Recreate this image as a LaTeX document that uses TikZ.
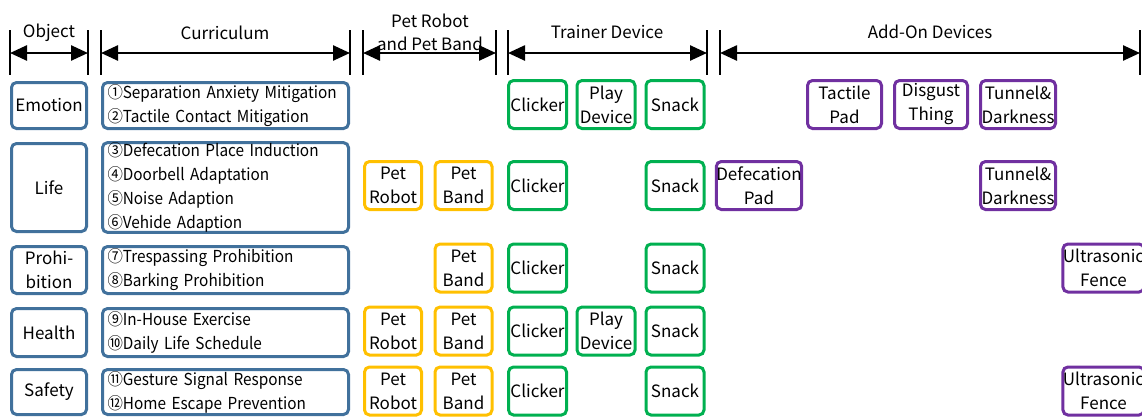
\documentclass[tikz,border=0pt]{standalone}
\usepackage{fontspec}
\setmainfont{Noto Sans CJK KR}
\newfontfamily\narrowfont[FakeStretch=0.93]{Noto Sans CJK KR}
\usetikzlibrary{arrows.meta}
\definecolor{cblue}{RGB}{65,113,156}
\definecolor{cgreen}{RGB}{0,176,80}
\definecolor{cyellow}{RGB}{255,192,0}
\definecolor{cpurple}{RGB}{112,48,160}

\begin{document}
\begin{tikzpicture}[x=1pt,y=-1pt,line width=3pt,
  box/.style={draw,rounded corners=5pt,inner sep=0pt,align=center,
    font=\fontsize{17}{24}\selectfont},
  obj node/.style={box,cblue,text=black,minimum width=75pt},
  cur node/.style={box,cblue,text=black,inner xsep=5pt,text width=236pt,align=left,
    font=\narrowfont\fontsize{16.5}{24}\selectfont},
  pet node/.style={box,cyellow,text=black,minimum width=57pt,minimum height=48pt},
  trainer node/.style={box,cgreen,text=black,minimum width=58pt,minimum height=48pt},
  addon node/.style={box,cpurple,text=black,minimum width=74pt,minimum height=48pt},
  bar/.style={line width=2.5pt},
  span/.style={{Triangle[length=17pt,width=15pt]}-{Triangle[length=17pt,width=15pt]},line width=2.5pt},
  head/.style={font=\fontsize{17}{23}\selectfont,align=center}]
  \useasboundingbox (0,0) rectangle (1142,418);

  % header bars and spans
  \foreach \x/\n in {10/oL,88/oR,101/cL,350/cR,363/pL,496/pR,508/tL,707/tR,720/aL,1140/aR}{
    \coordinate (\n) at (\x,53);
    \draw[bar] (\x,30) -- (\x,75);
  }
  \draw[span] (oL) -- (oR);
  \draw[span] (cL) -- (cR);
  \draw[span] (pL) -- (pR);
  \draw[span] (tL) -- (tR);
  \draw[span] (aL) -- (aR);
  \node[head] (hobj) at (49,33) {Object};
  \node[head] (hcur) at (225,33) {Curriculum};
  \node[head] (hpet) at (430,32) {Pet Robot\\and Pet Band};
  \node[head] (htrn) at (607,32) {Trainer Device};
  \node[head] (hadd) at (930,32) {Add-On Devices};

  % objects
  \node[obj node,minimum height=46pt] (emo) at (49,105.5) {Emotion};
  \node[obj node,minimum height=88pt] (life) at (49,187.5) {Life};
  \node[obj node,minimum height=47pt] (proh) at (49,270) {Prohi-\\bition};
  \node[obj node,minimum height=48pt] (heal) at (49,332.5) {Health};
  \node[obj node,minimum height=45pt] (safe) at (49,392) {Safety};

  % curricula (one line per item, never broken)
  \node[cur node,minimum height=46pt] (c1) at (225.5,105.5) {\mbox{①Separation Anxiety Mitigation}\\\mbox{②Tactile Contact Mitigation}};
  \node[cur node,minimum height=88pt] (c2) at (225.5,187.5) {\mbox{③Defecation Place Induction}\\\mbox{④Doorbell Adaptation}\\\mbox{⑤Noise Adaption}\\\mbox{⑥Vehide Adaption}};
  \node[cur node,minimum height=47pt] (c3) at (225.5,270) {\mbox{⑦Trespassing Prohibition}\\\mbox{⑧Barking Prohibition}};
  \node[cur node,minimum height=48pt] (c4) at (225.5,332.5) {\mbox{⑨In-House Exercise}\\\mbox{⑩Daily Life Schedule}};
  \node[cur node,minimum height=45pt] (c5) at (225.5,392) {\mbox{⑪Gesture Signal Response}\\\mbox{⑫Home Escape Prevention}};

  % emotion row
  \node[trainer node] (e1) at (537.5,104.5) {Clicker};
  \node[trainer node] (e2) at (606,104.5) {Play\\Device};
  \node[trainer node] (e3) at (675,104.5) {Snack};
  \node[addon node] (e4) at (844.5,104.5) {Tactile\\Pad};
  \node[addon node,minimum width=73pt] (e5) at (931,104.5) {Disgust\\Thing};
  \node[addon node,minimum width=75pt] (e6) at (1018,104.5) {Tunnel\&\\Darkness};

  % life row
  \node[pet node] (l1) at (393,185.5) {Pet\\Robot};
  \node[pet node] (l2) at (463.5,185.5) {Pet\\Band};
  \node[trainer node] (l3) at (537.5,185.5) {Clicker};
  \node[trainer node] (l4) at (675,185.5) {Snack};
  \node[addon node,minimum width=79pt] (l5) at (759,185.5) {Defecation\\Pad};
  \node[addon node,minimum width=75pt] (l6) at (1018,185.5) {Tunnel\&\\Darkness};

  % prohibition row
  \node[pet node] (p1) at (463.5,268) {Pet\\Band};
  \node[trainer node] (p2) at (537.5,268) {Clicker};
  \node[trainer node] (p3) at (675,268) {Snack};
  \node[addon node,minimum width=72pt] (p4) at (1103.5,268) {Ultrasonic\\Fence};

  % health row
  \node[pet node] (h1) at (393,331) {Pet\\Robot};
  \node[pet node] (h2) at (463.5,331) {Pet\\Band};
  \node[trainer node] (h3) at (537.5,331) {Clicker};
  \node[trainer node] (h4) at (606,331) {Play\\Device};
  \node[trainer node] (h5) at (675,331) {Snack};

  % safety row
  \node[pet node] (s1) at (393,391) {Pet\\Robot};
  \node[pet node] (s2) at (463.5,391) {Pet\\Band};
  \node[trainer node] (s3) at (537.5,391) {Clicker};
  \node[trainer node] (s4) at (675,391) {Snack};
  \node[addon node,minimum width=72pt] (s5) at (1103.5,391) {Ultrasonic\\Fence};
\end{tikzpicture}
\end{document}
